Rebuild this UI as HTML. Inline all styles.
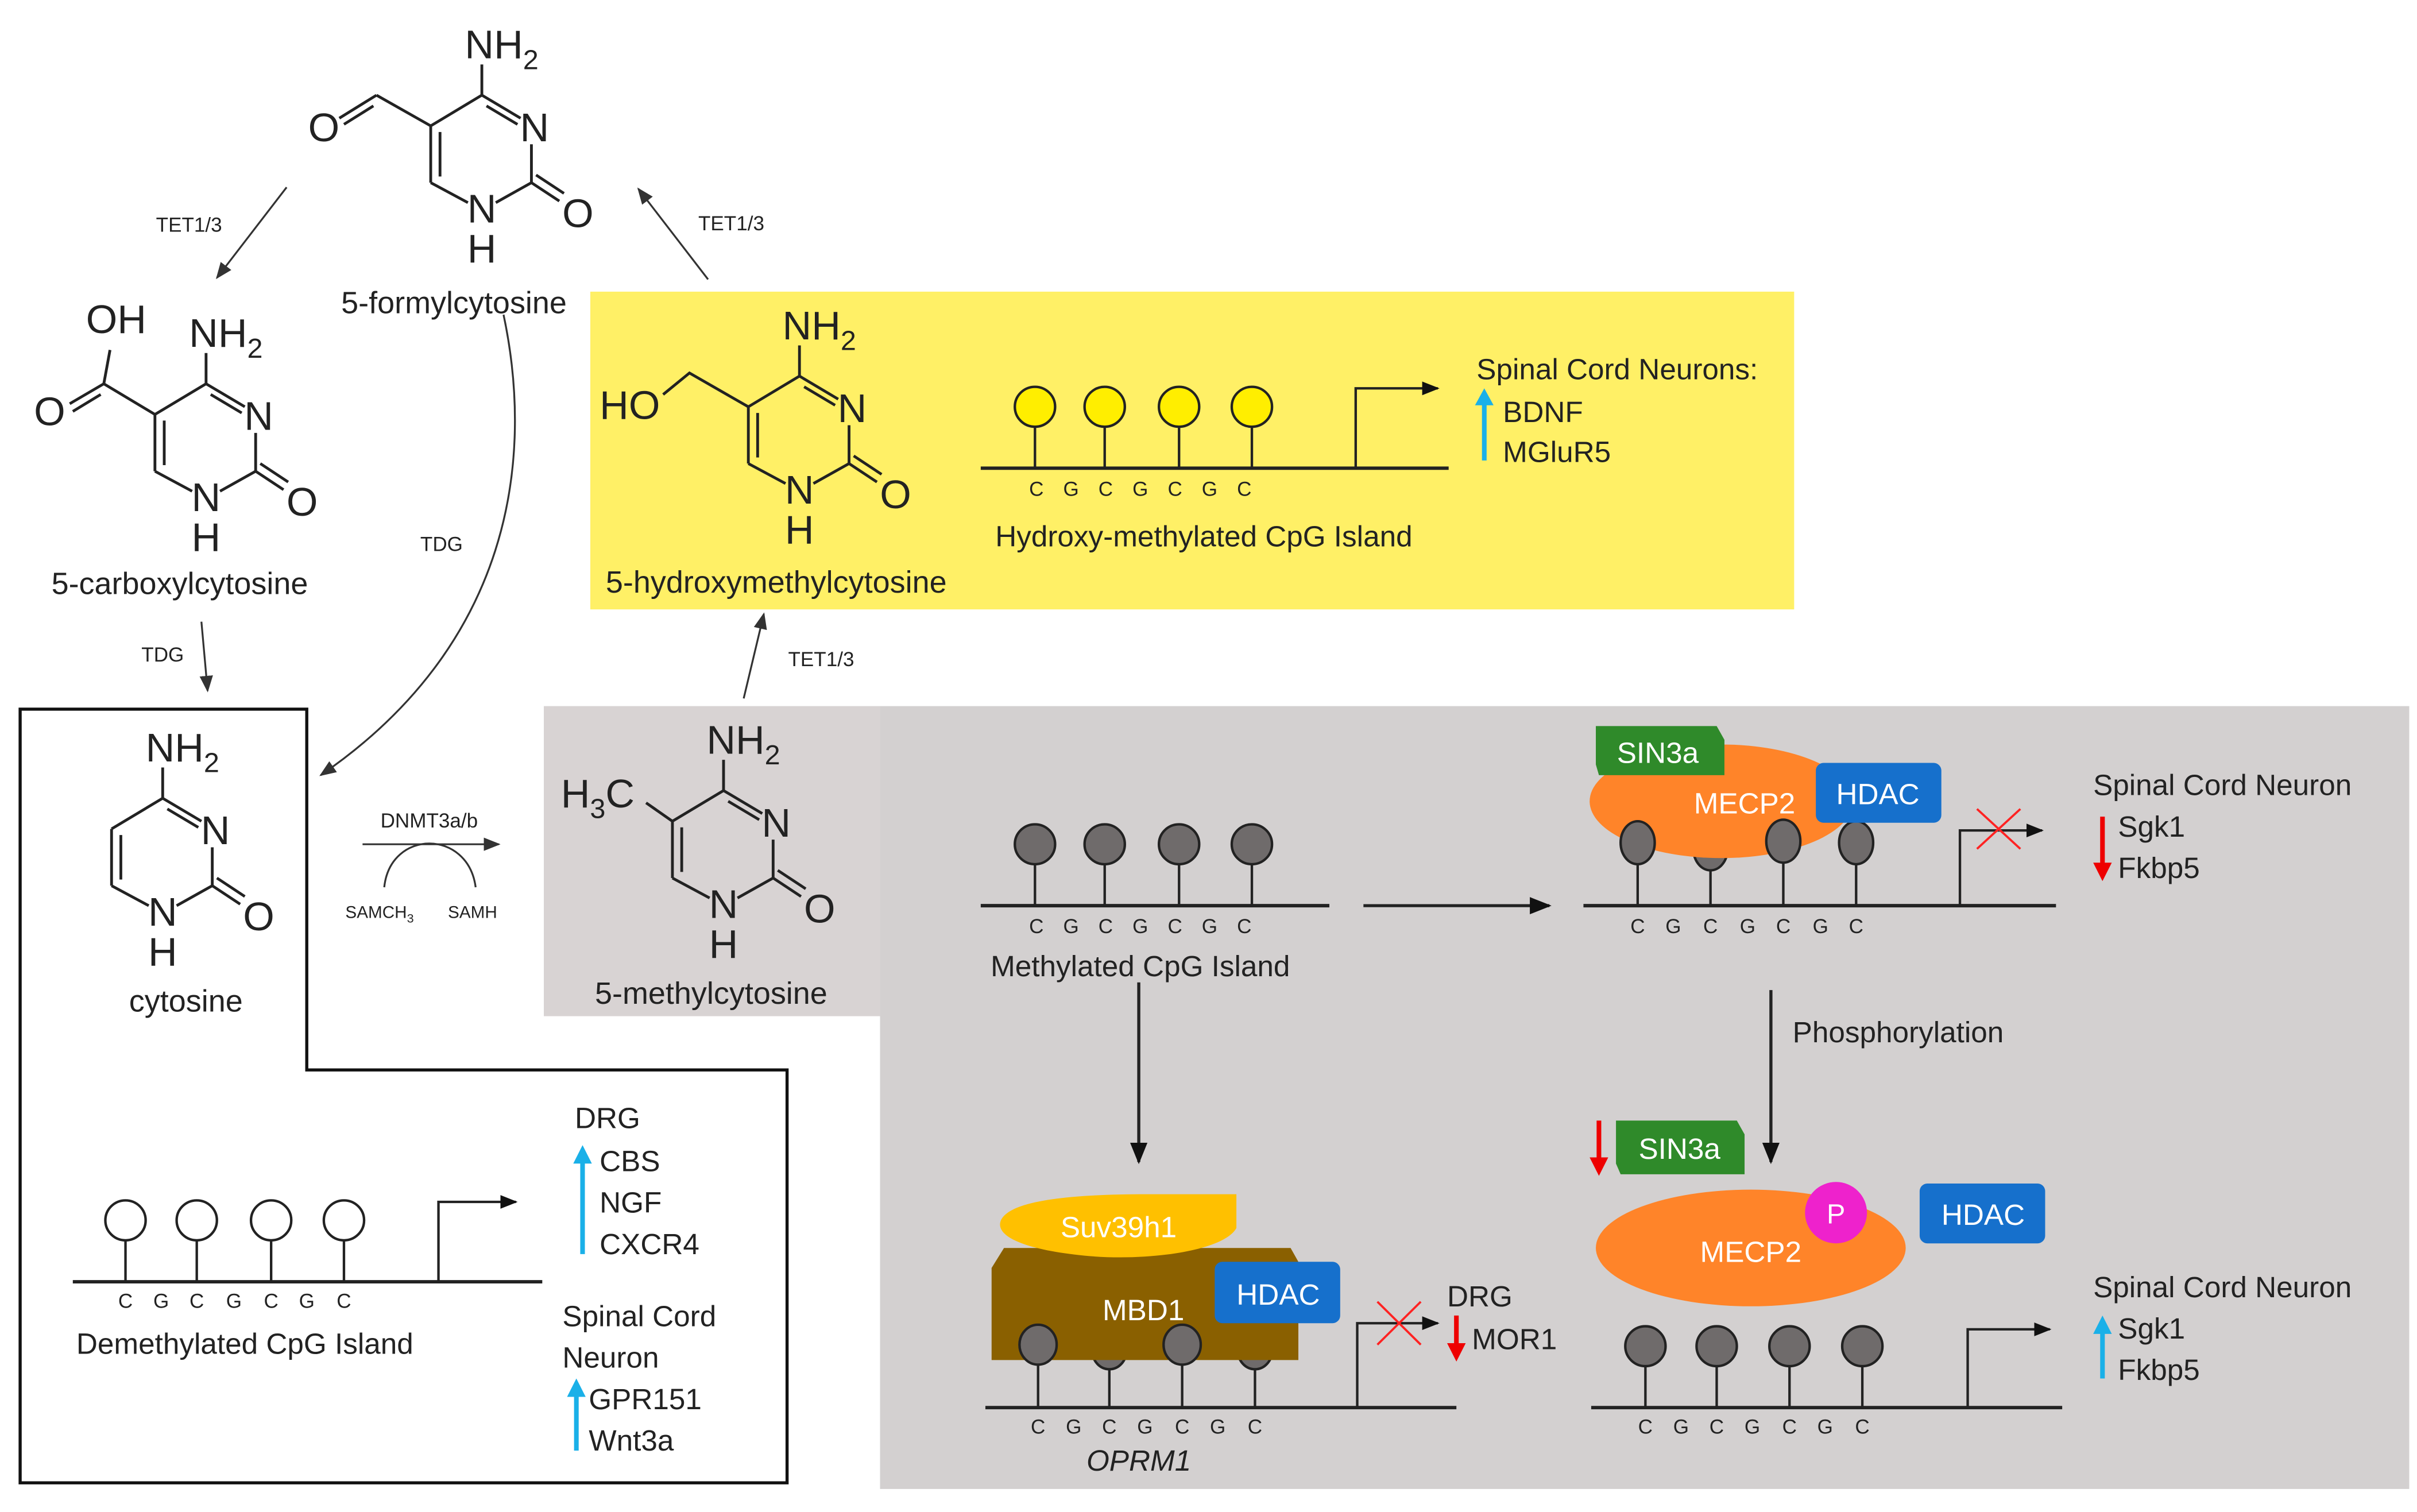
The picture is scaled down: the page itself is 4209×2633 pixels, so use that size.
<!DOCTYPE html>
<html><head><meta charset="utf-8"><style>
html,body{margin:0;padding:0;background:#fff;}
svg{display:block;}
text{font-family:"Liberation Sans",sans-serif;fill:#222;}
.w{fill:#fff;}
</style></head><body>
<svg width="4209" height="2633" viewBox="0 0 1560 985" preserveAspectRatio="none" xmlns="http://www.w3.org/2000/svg">
<defs>
<marker id="ah" viewBox="0 0 10 10" refX="9" refY="5" markerWidth="7" markerHeight="7" orient="auto"><path d="M0,1 L10,5 L0,9 z" fill="#111"/></marker>
<marker id="ahs" viewBox="0 0 10 10" refX="9" refY="5" markerWidth="9" markerHeight="9" orient="auto"><path d="M0,1 L10,5 L0,9 z" fill="#333"/></marker>
<g id="ring" stroke="#222" stroke-width="1.8" fill="none">
<line x1="0" y1="0" x2="25" y2="15"/><line x1="3" y1="7" x2="23" y2="19"/>
<line x1="32" y1="32" x2="32" y2="57"/>
<line x1="32" y1="57" x2="9" y2="70"/>
<line x1="-9" y1="70" x2="-33" y2="57"/>
<line x1="-33" y1="57" x2="-33" y2="20"/><line x1="-27" y1="53" x2="-27" y2="24"/>
<line x1="-33" y1="20" x2="0" y2="0"/>
<line x1="32" y1="57" x2="50" y2="69"/><line x1="35" y1="52" x2="53" y2="64"/>
<line x1="0" y1="0" x2="0" y2="-20"/>
</g>
<g id="ringtext">
<text x="-11" y="-24" font-size="26">NH<tspan font-size="18" dy="7">2</tspan></text>
<text x="34" y="30" font-size="26" text-anchor="middle">N</text>
<text x="0" y="83" font-size="26" text-anchor="middle">N</text>
<text x="0" y="109" font-size="26" text-anchor="middle">H</text>
<text x="62" y="86" font-size="26" text-anchor="middle">O</text>
</g>
</defs>

<!-- backgrounds -->
<rect x="381" y="190" width="777" height="207" fill="#fff066"/>
<rect x="568" y="460" width="987" height="510" fill="#d3d0d0"/>
<rect x="351" y="460" width="217" height="202" fill="#d8d3d3"/>
<polygon points="13,462 198,462 198,697 508,697 508,966 13,966" fill="none" stroke="#111" stroke-width="2"/>

<!-- molecules -->
<g transform="translate(105,520)"><use href="#ring"/><use href="#ringtext"/></g>
<text x="120" y="659" font-size="20" text-anchor="middle">cytosine</text>

<g transform="translate(467,515)"><use href="#ring"/><use href="#ringtext"/>
<line x1="-33" y1="20" x2="-50" y2="8" stroke="#222" stroke-width="1.8"/>
<text x="-105" y="11" font-size="26">H<tspan font-size="18" dy="7">3</tspan><tspan dy="-7">C</tspan></text></g>
<text x="459" y="654" font-size="20" text-anchor="middle">5-methylcytosine</text>

<g transform="translate(516,245)"><use href="#ring"/><use href="#ringtext"/>
<polyline points="-33,20 -71,-2 -88,12" stroke="#222" stroke-width="1.8" fill="none"/>
<text x="-90" y="28" font-size="26" text-anchor="end">HO</text></g>
<text x="501" y="386" font-size="20" text-anchor="middle">5-hydroxymethylcytosine</text>

<g transform="translate(311,62)"><use href="#ring"/><use href="#ringtext"/>
<line x1="-33" y1="20" x2="-68" y2="0" stroke="#222" stroke-width="1.8"/>
<line x1="-68" y1="0" x2="-92" y2="15" stroke="#222" stroke-width="1.8"/>
<line x1="-70" y1="7" x2="-89" y2="19" stroke="#222" stroke-width="1.8"/>
<text x="-102" y="30" font-size="26" text-anchor="middle">O</text></g>
<text x="293" y="204" font-size="20" text-anchor="middle">5-formylcytosine</text>

<g transform="translate(133,250)"><use href="#ring"/><use href="#ringtext"/>
<line x1="-33" y1="20" x2="-66" y2="0" stroke="#222" stroke-width="1.8"/>
<line x1="-66" y1="0" x2="-62" y2="-22" stroke="#222" stroke-width="1.8"/>
<line x1="-66" y1="0" x2="-88" y2="13" stroke="#222" stroke-width="1.8"/>
<line x1="-68" y1="7" x2="-86" y2="18" stroke="#222" stroke-width="1.8"/>
<text x="-58" y="-33" font-size="26" text-anchor="middle">OH</text>
<text x="-101" y="27" font-size="26" text-anchor="middle">O</text></g>
<text x="116" y="387" font-size="20" text-anchor="middle">5-carboxylcytosine</text>

<!-- reaction arrows -->
<g stroke="#333" stroke-width="1.2" fill="none">
<line x1="185" y1="122" x2="140" y2="181" marker-end="url(#ahs)"/>
<line x1="457" y1="182" x2="412" y2="123" marker-end="url(#ahs)"/>
<path d="M325,205 C345,300 330,420 207,505" marker-end="url(#ahs)"/>
<line x1="130" y1="405" x2="134" y2="450" marker-end="url(#ahs)"/>
<line x1="480" y1="455" x2="493" y2="400" marker-end="url(#ahs)"/>
<line x1="234" y1="550" x2="322" y2="550" marker-end="url(#ahs)"/>
<path d="M248,578 C252,540 302,540 307,578"/>
</g>
<text x="122" y="151" font-size="13" text-anchor="middle">TET1/3</text>
<text x="472" y="150" font-size="13" text-anchor="middle">TET1/3</text>
<text x="285" y="359" font-size="13" text-anchor="middle">TDG</text>
<text x="105" y="431" font-size="13" text-anchor="middle">TDG</text>
<text x="530" y="434" font-size="13" text-anchor="middle">TET1/3</text>
<text x="277" y="539" font-size="13" text-anchor="middle">DNMT3a/b</text>
<text x="245" y="598" font-size="11" text-anchor="middle">SAMCH<tspan font-size="8" dy="3">3</tspan></text>
<text x="305" y="598" font-size="11" text-anchor="middle">SAMH</text>

<!-- Hydroxy-methylated CpG -->
<g stroke="#222" stroke-width="1.6">
<line x1="633" y1="305" x2="935" y2="305" stroke-width="2.2"/>
<line x1="668" y1="305" x2="668" y2="278"/><line x1="713" y1="305" x2="713" y2="278"/><line x1="761" y1="305" x2="761" y2="278"/><line x1="808" y1="305" x2="808" y2="278"/>
<circle cx="668" cy="265" r="13" fill="#ffee00"/><circle cx="713" cy="265" r="13" fill="#ffee00"/><circle cx="761" cy="265" r="13" fill="#ffee00"/><circle cx="808" cy="265" r="13" fill="#ffee00"/>
<polyline points="875,305 875,253 928,253" fill="none" marker-end="url(#ah)"/>
</g>
<text x="736" y="323" font-size="13" text-anchor="middle" letter-spacing="0" word-spacing="9">C G C G C G C</text>
<text x="777" y="356" font-size="19" text-anchor="middle">Hydroxy-methylated CpG Island</text>
<text x="953" y="247" font-size="19">Spinal Cord Neurons:</text>
<line x1="958" y1="300" x2="958" y2="262" stroke="#1ab0e8" stroke-width="3"/><path d="M952,264 L958,253 L964,264 z" fill="#1ab0e8"/>
<text x="970" y="275" font-size="19">BDNF</text>
<text x="970" y="301" font-size="19">MGluR5</text>

<!-- Methylated CpG -->
<g stroke="#222" stroke-width="1.6">
<line x1="633" y1="590" x2="858" y2="590" stroke-width="2.2"/>
<line x1="668" y1="590" x2="668" y2="562"/><line x1="713" y1="590" x2="713" y2="562"/><line x1="761" y1="590" x2="761" y2="562"/><line x1="808" y1="590" x2="808" y2="562"/>
<circle cx="668" cy="550" r="13" fill="#6f6b6b"/><circle cx="713" cy="550" r="13" fill="#6f6b6b"/><circle cx="761" cy="550" r="13" fill="#6f6b6b"/><circle cx="808" cy="550" r="13" fill="#6f6b6b"/>
<line x1="880" y1="590" x2="1000" y2="590" stroke-width="2" marker-end="url(#ah)"/>
<line x1="735" y1="640" x2="735" y2="757" stroke-width="2" marker-end="url(#ah)"/>
<line x1="1143" y1="645" x2="1143" y2="757" stroke-width="2" marker-end="url(#ah)"/>
</g>
<text x="736" y="608" font-size="13" text-anchor="middle" word-spacing="9">C G C G C G C</text>
<text x="736" y="636" font-size="19" text-anchor="middle">Methylated CpG Island</text>
<text x="1157" y="679" font-size="19">Phosphorylation</text>

<!-- Top-right complex -->
<g stroke="#222" stroke-width="1.6">
<line x1="1022" y1="590" x2="1327" y2="590" stroke-width="2.2"/>
<line x1="1057" y1="590" x2="1057" y2="560"/><line x1="1104" y1="590" x2="1104" y2="560"/><line x1="1151" y1="590" x2="1151" y2="560"/><line x1="1198" y1="590" x2="1198" y2="560"/>
<ellipse cx="1104" cy="553" rx="11" ry="14" fill="#6f6b6b"/><ellipse cx="1198" cy="549" rx="11" ry="14" fill="#6f6b6b"/>
</g>
<ellipse cx="1111" cy="522" rx="85" ry="37" fill="#ff8429"/>
<g stroke="#222" stroke-width="1.6"><ellipse cx="1057" cy="549" rx="11" ry="14" fill="#6f6b6b"/><ellipse cx="1151" cy="548" rx="11" ry="14" fill="#6f6b6b"/></g>
<path d="M1030,473 L1108,473 L1113,482 L1113,505 L1032,505 L1030,498 z" fill="#2f8a2a"/>
<text x="1070" y="497" font-size="19" class="w" text-anchor="middle">SIN3a</text>
<text x="1126" y="530" font-size="19" class="w" text-anchor="middle">MECP2</text>
<rect x="1172" y="497" width="81" height="39" rx="5" fill="#1670cc"/>
<text x="1212" y="524" font-size="19" class="w" text-anchor="middle">HDAC</text>
<polyline points="1265,590 1265,541 1318,541" fill="none" stroke="#222" stroke-width="1.6" marker-end="url(#ah)"/>
<g stroke="#f22" stroke-width="1.4"><line x1="1276" y1="527" x2="1304" y2="553"/><line x1="1304" y1="527" x2="1276" y2="553"/></g>
<text x="1057" y="608" font-size="13" text-anchor="middle">C</text><text x="1080" y="608" font-size="13" text-anchor="middle">G</text><text x="1104" y="608" font-size="13" text-anchor="middle">C</text><text x="1128" y="608" font-size="13" text-anchor="middle">G</text><text x="1151" y="608" font-size="13" text-anchor="middle">C</text><text x="1175" y="608" font-size="13" text-anchor="middle">G</text><text x="1198" y="608" font-size="13" text-anchor="middle">C</text>
<text x="1351" y="518" font-size="19">Spinal Cord Neuron</text>
<line x1="1357" y1="532" x2="1357" y2="564" stroke="#e00" stroke-width="3"/><path d="M1351,562 L1357,574 L1363,562 z" fill="#e00"/>
<text x="1367" y="545" font-size="19">Sgk1</text>
<text x="1367" y="572" font-size="19">Fkbp5</text>

<!-- Bottom-right complex -->
<line x1="1032" y1="730" x2="1032" y2="756" stroke="#e00" stroke-width="3"/><path d="M1026,754 L1032,766 L1038,754 z" fill="#e00"/>
<path d="M1043,730 L1121,730 L1126,739 L1126,765 L1046,765 L1043,758 z" fill="#2f8a2a"/>
<text x="1084" y="755" font-size="19" class="w" text-anchor="middle">SIN3a</text>
<ellipse cx="1130" cy="813" rx="100" ry="38" fill="#ff8429"/>
<circle cx="1185" cy="790" r="20" fill="#ee22cc"/>
<text x="1185" y="797" font-size="18" class="w" text-anchor="middle">P</text>
<text x="1130" y="822" font-size="19" class="w" text-anchor="middle">MECP2</text>
<rect x="1239" y="771" width="81" height="39" rx="5" fill="#1670cc"/>
<text x="1280" y="798" font-size="19" class="w" text-anchor="middle">HDAC</text>
<g stroke="#222" stroke-width="1.6">
<line x1="1027" y1="917" x2="1331" y2="917" stroke-width="2.2"/>
<line x1="1062" y1="917" x2="1062" y2="890"/><line x1="1108" y1="917" x2="1108" y2="890"/><line x1="1155" y1="917" x2="1155" y2="890"/><line x1="1202" y1="917" x2="1202" y2="890"/>
<circle cx="1062" cy="877" r="13" fill="#6f6b6b"/><circle cx="1108" cy="877" r="13" fill="#6f6b6b"/><circle cx="1155" cy="877" r="13" fill="#6f6b6b"/><circle cx="1202" cy="877" r="13" fill="#6f6b6b"/>
<polyline points="1270,917 1270,866 1323,866" fill="none" marker-end="url(#ah)"/>
</g>
<text x="1062" y="934" font-size="13" text-anchor="middle">C</text><text x="1085" y="934" font-size="13" text-anchor="middle">G</text><text x="1108" y="934" font-size="13" text-anchor="middle">C</text><text x="1131" y="934" font-size="13" text-anchor="middle">G</text><text x="1155" y="934" font-size="13" text-anchor="middle">C</text><text x="1178" y="934" font-size="13" text-anchor="middle">G</text><text x="1202" y="934" font-size="13" text-anchor="middle">C</text>
<text x="1351" y="845" font-size="19">Spinal Cord Neuron</text>
<line x1="1357" y1="898" x2="1357" y2="867" stroke="#1ab0e8" stroke-width="3"/><path d="M1351,869 L1357,857 L1363,869 z" fill="#1ab0e8"/>
<text x="1367" y="872" font-size="19">Sgk1</text>
<text x="1367" y="899" font-size="19">Fkbp5</text>

<!-- Bottom-middle complex -->
<g stroke="#222" stroke-width="1.6">
<line x1="716" y1="917" x2="716" y2="880"/><line x1="810" y1="917" x2="810" y2="880"/>
<ellipse cx="716" cy="880" rx="11" ry="12" fill="#6f6b6b"/><ellipse cx="810" cy="880" rx="11" ry="12" fill="#6f6b6b"/>
</g>
<path d="M648,813 L833,813 L838,822 L838,886 L640,886 L640,826 z" fill="#8a6000"/>
<path d="M798,778 L798,800 C790,815 740,822 700,818 C660,814 642,805 646,795 C652,782 690,778 740,778 z" fill="#ffc000"/>
<text x="722" y="806" font-size="19" fill="#fff8d0" class="w" text-anchor="middle">Suv39h1</text>
<text x="738" y="860" font-size="19" class="w" text-anchor="middle">MBD1</text>
<rect x="784" y="822" width="81" height="40" rx="5" fill="#1670cc"/>
<text x="825" y="850" font-size="19" class="w" text-anchor="middle">HDAC</text>
<g stroke="#222" stroke-width="1.6">
<line x1="636" y1="917" x2="940" y2="917" stroke-width="2.2"/>
<line x1="670" y1="917" x2="670" y2="888"/><line x1="763" y1="917" x2="763" y2="888"/>
<ellipse cx="670" cy="876" rx="12" ry="13" fill="#6f6b6b"/><ellipse cx="763" cy="876" rx="12" ry="13" fill="#6f6b6b"/>
<polyline points="876,917 876,862 928,862" fill="none" marker-end="url(#ah)"/>
</g>
<g stroke="#f22" stroke-width="1.4"><line x1="889" y1="848" x2="917" y2="876"/><line x1="917" y1="848" x2="889" y2="876"/></g>
<text x="670" y="934" font-size="13" text-anchor="middle">C</text><text x="693" y="934" font-size="13" text-anchor="middle">G</text><text x="716" y="934" font-size="13" text-anchor="middle">C</text><text x="739" y="934" font-size="13" text-anchor="middle">G</text><text x="763" y="934" font-size="13" text-anchor="middle">C</text><text x="786" y="934" font-size="13" text-anchor="middle">G</text><text x="810" y="934" font-size="13" text-anchor="middle">C</text>
<text x="735" y="958" font-size="19" font-style="italic" text-anchor="middle">OPRM1</text>
<text x="934" y="851" font-size="19">DRG</text>
<line x1="940" y1="857" x2="940" y2="877" stroke="#e00" stroke-width="3"/><path d="M934,875 L940,887 L946,875 z" fill="#e00"/>
<text x="950" y="879" font-size="19">MOR1</text>

<!-- Demethylated -->
<g stroke="#222" stroke-width="1.6">
<line x1="47" y1="835" x2="350" y2="835" stroke-width="2.2"/>
<line x1="81" y1="835" x2="81" y2="808"/><line x1="127" y1="835" x2="127" y2="808"/><line x1="175" y1="835" x2="175" y2="808"/><line x1="222" y1="835" x2="222" y2="808"/>
<circle cx="81" cy="795" r="13" fill="#fff"/><circle cx="127" cy="795" r="13" fill="#fff"/><circle cx="175" cy="795" r="13" fill="#fff"/><circle cx="222" cy="795" r="13" fill="#fff"/>
<polyline points="283,835 283,783 333,783" fill="none" marker-end="url(#ah)"/>
</g>
<text x="81" y="852" font-size="13" text-anchor="middle">C</text><text x="104" y="852" font-size="13" text-anchor="middle">G</text><text x="127" y="852" font-size="13" text-anchor="middle">C</text><text x="151" y="852" font-size="13" text-anchor="middle">G</text><text x="175" y="852" font-size="13" text-anchor="middle">C</text><text x="198" y="852" font-size="13" text-anchor="middle">G</text><text x="222" y="852" font-size="13" text-anchor="middle">C</text>
<text x="158" y="882" font-size="19" text-anchor="middle">Demethylated CpG Island</text>
<text x="371" y="735" font-size="19">DRG</text>
<line x1="376" y1="817" x2="376" y2="756" stroke="#1ab0e8" stroke-width="3"/><path d="M370,758 L376,746 L382,758 z" fill="#1ab0e8"/>
<text x="387" y="763" font-size="19">CBS</text>
<text x="387" y="790" font-size="19">NGF</text>
<text x="387" y="817" font-size="19">CXCR4</text>
<text x="363" y="864" font-size="19">Spinal Cord</text>
<text x="363" y="891" font-size="19">Neuron</text>
<line x1="372" y1="945" x2="372" y2="908" stroke="#1ab0e8" stroke-width="3"/><path d="M366,910 L372,898 L378,910 z" fill="#1ab0e8"/>
<text x="380" y="918" font-size="19">GPR151</text>
<text x="380" y="945" font-size="19">Wnt3a</text>
</svg>
</body></html>
